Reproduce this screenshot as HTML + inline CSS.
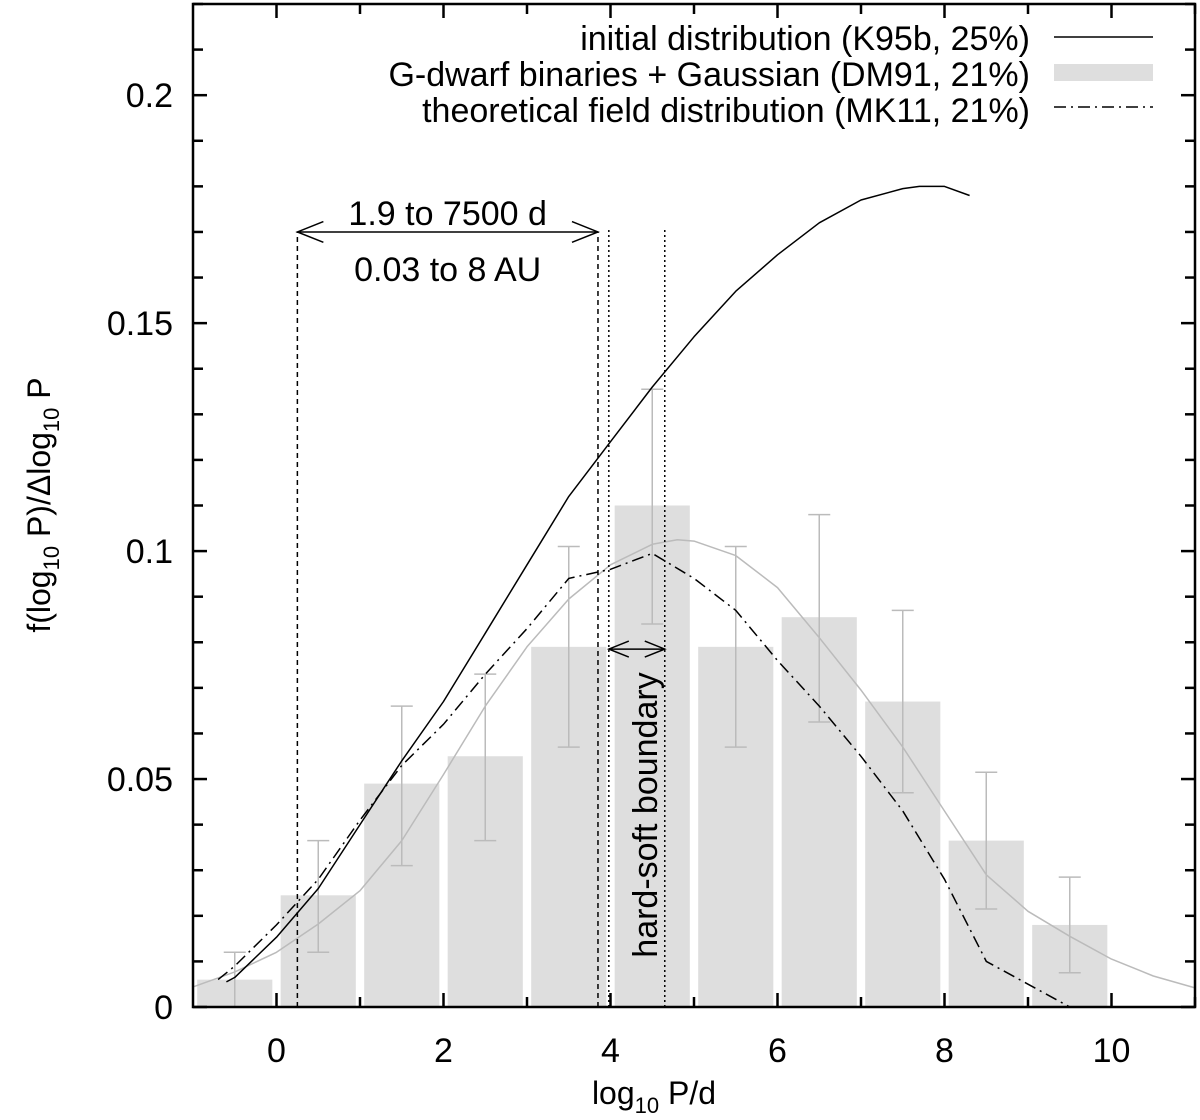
<!DOCTYPE html>
<html><head><meta charset="utf-8"><style>
body{margin:0;background:#fff}
svg{display:block;font-family:"Liberation Sans",Arial,sans-serif}
</style></head><body>
<svg id="chart" width="1200" height="1120" viewBox="0 0 1200 1120" xmlns="http://www.w3.org/2000/svg"></svg>
<script>
const binCenters=[-0.5,0.5,1.5,2.5,3.5,4.5,5.5,6.5,7.5,8.5,9.5];
const binValues=[0.006,0.0245,0.049,0.055,0.079,0.110,0.079,0.0855,0.067,0.0365,0.018];
const errLow=[0,0.012,0.031,0.0365,0.057,0.084,0.057,0.0625,0.047,0.0215,0.0075];
const errHigh=[0.012,0.0365,0.066,0.073,0.101,0.1355,0.101,0.108,0.087,0.0515,0.0285];
const k95X=[-0.6,-0.5,0,0.5,1,1.5,2,2.5,3,3.5,4,4.5,5,5.5,6,6.5,7,7.5,7.7,8,8.3];
const k95Y=[0.0055,0.0065,0.0153,0.026,0.040,0.054,0.067,0.082,0.097,0.112,0.124,0.136,0.147,0.157,0.165,0.172,0.177,0.1795,0.180,0.180,0.178];
const mk11X=[-0.7,-0.5,0,0.5,1,1.5,2,2.5,3,3.5,4,4.5,5,5.5,6,6.5,7,7.5,8,8.5,9,9.5];
const mk11Y=[0.006,0.009,0.018,0.028,0.041,0.053,0.062,0.073,0.083,0.094,0.096,0.0995,0.094,0.087,0.076,0.066,0.055,0.043,0.028,0.010,0.005,0.0];
const gaussX=[-1,-0.5,0,0.5,1,1.5,2,2.5,3,3.5,4,4.5,4.8,5,5.5,6,6.5,7,7.5,8,8.5,9,9.5,10,10.5,11];
const gaussY=[0.0044,0.0077,0.012,0.0182,0.0255,0.0365,0.051,0.066,0.079,0.0895,0.097,0.1015,0.1025,0.1022,0.099,0.092,0.081,0.0695,0.057,0.043,0.029,0.021,0.0155,0.0105,0.0068,0.0042];
const xTicks=[0,2,4,6,8,10];
const yTicks=[0,0.05,0.1,0.15,0.2];
const yTickLabels=["0","0.05","0.1","0.15","0.2"];

const L=193,R=1195,T=4,B=1007,XMIN=-1,XMAX=11,YMIN=0,YMAX=0.22;
const X=v=>L+(v-XMIN)/(XMAX-XMIN)*(R-L);
const Y=v=>B-(v-YMIN)/(YMAX-YMIN)*(B-T);
const svg=document.getElementById('chart');
const NS='http://www.w3.org/2000/svg';
function mk(tag,attrs,parent){const e=document.createElementNS(NS,tag);for(const k in attrs)e.setAttribute(k,attrs[k]);(parent||svg).appendChild(e);return e;}

binCenters.forEach((c,i)=>{
 const r=mk('rect',{x:X(c-0.45),y:Y(binValues[i]),width:X(c+0.45)-X(c-0.45),height:Y(0)-Y(binValues[i]),fill:'#dedede'});
 
 
});
binCenters.forEach((c,i)=>{
 const g=mk('g',{stroke:'#bbb','stroke-width':1.5,fill:'none'});
 
 
 mk('line',{x1:X(c),x2:X(c),y1:Y(errLow[i]),y2:Y(errHigh[i])},g);
 mk('line',{x1:X(c)-11,x2:X(c)+11,y1:Y(errLow[i]),y2:Y(errLow[i])},g);
 mk('line',{x1:X(c)-11,x2:X(c)+11,y1:Y(errHigh[i]),y2:Y(errHigh[i])},g);
});
function pts(xs,ys){return xs.map((x,i)=>X(x).toFixed(1)+','+Y(ys[i]).toFixed(1)).join(' ');}
let p=mk('polyline',{points:pts(gaussX,gaussY),fill:'none',stroke:'#bbb','stroke-width':1.5,'stroke-linejoin':'round'});


p=mk('polyline',{points:pts(k95X,k95Y),fill:'none',stroke:'#000','stroke-width':1.5,'stroke-linejoin':'round'});


p=mk('polyline',{points:pts(mk11X,mk11Y),fill:'none',stroke:'#000','stroke-width':1.5,'stroke-dasharray':'12,5,2,5'});



const ann=mk('g',{stroke:'#000','stroke-width':1.5,fill:'none'});


mk('line',{x1:X(0.25),x2:X(0.25),y1:Y(0),y2:Y(0.17),'stroke-dasharray':'5,4'},ann);
mk('line',{x1:X(3.85),x2:X(3.85),y1:Y(0),y2:Y(0.17),'stroke-dasharray':'5,4'},ann);
mk('line',{x1:X(3.98),x2:X(3.98),y1:Y(0),y2:Y(0.171),'stroke-dasharray':'2,3'},ann);
mk('line',{x1:X(4.65),x2:X(4.65),y1:Y(0),y2:Y(0.171),'stroke-dasharray':'2,3'},ann);
function arrow(x1,x2,y,s){mk('line',{x1,x2,y1:y,y2:y},ann);
 mk('polyline',{points:`${x1+s},${y-s/2.5} ${x1},${y} ${x1+s},${y+s/2.5}`},ann);
 mk('polyline',{points:`${x2-s},${y-s/2.5} ${x2},${y} ${x2-s},${y+s/2.5}`},ann);}
arrow(X(0.25),X(3.85),Y(0.17),26);
arrow(X(3.98),X(4.65),Y(0.0785),20);
let t=mk('text',{x:(X(0.25)+X(3.85))/2,y:225,'font-size':34,'text-anchor':'middle'});t.textContent='1.9 to 7500 d';

t=mk('text',{x:(X(0.25)+X(3.85))/2,y:281,'font-size':34,'text-anchor':'middle'});t.textContent='0.03 to 8 AU';

t=mk('text',{x:0,y:0,'font-size':34,'text-anchor':'middle',transform:`translate(657,815) rotate(-90)`});t.textContent='hard-soft boundary';


const ax=mk('g',{stroke:'#000','stroke-width':2.5});


mk('rect',{x:L,y:T,width:R-L,height:B-T,fill:'none'},ax);
for(let v=0;v<=11;v++){const big=v%2==0, l=big?14:10;
 mk('line',{x1:X(v),x2:X(v),y1:B,y2:B-l},ax);mk('line',{x1:X(v),x2:X(v),y1:T,y2:T+l},ax);}
for(let k=0;k<=22;k++){const v=k/100,big=k%5==0,l=big?14:10;
 mk('line',{x1:L,x2:L+l,y1:Y(v),y2:Y(v)},ax);mk('line',{x1:R,x2:R-l,y1:Y(v),y2:Y(v)},ax);}
xTicks.forEach(v=>{const e=mk('text',{x:X(v),y:1062,'font-size':34,'text-anchor':'middle'});e.textContent=v;
 });
yTicks.forEach((v,i)=>{const e=mk('text',{x:173,y:Y(v)+12,'font-size':34,'text-anchor':'end'});e.textContent=yTickLabels[i];
 });
</script>
<svg style="position:absolute;left:0;top:0" width="1200" height="1120" font-family="Liberation Sans, Arial, sans-serif">
<text x="654" y="1104" font-size="32" text-anchor="middle">log<tspan font-size="22" dy="9">10</tspan><tspan dy="-9"> P/d</tspan></text>
<text transform="translate(50,505) rotate(-90)" font-size="32" text-anchor="middle">f(log<tspan font-size="22" dy="9">10</tspan><tspan dy="-9"> P)/Δlog</tspan><tspan font-size="22" dy="9">10</tspan><tspan dy="-9"> P</tspan></text>
<g font-size="34" text-anchor="end">
<text x="1030" y="50">initial distribution (K95b, 25%)</text>
<line x1="1054" x2="1153" y1="37" y2="37" stroke="#000" stroke-width="1.5"/>
<text x="1030" y="86">G-dwarf binaries + Gaussian (DM91, 21%)</text>
<rect x="1054" y="64" width="99" height="17" fill="#dedede"/>
<text x="1030" y="122">theoretical field distribution (MK11, 21%)</text>
<line x1="1054" x2="1153" y1="107" y2="107" stroke="#000" stroke-width="1.5" stroke-dasharray="12,5,2,5"/>
</g>
</svg>
</body></html>
